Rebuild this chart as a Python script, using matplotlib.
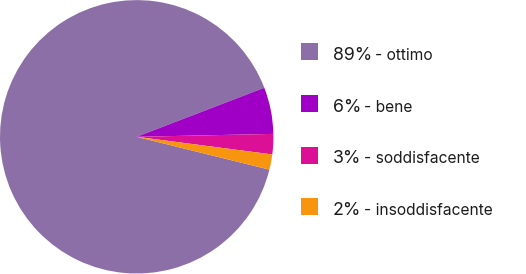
import matplotlib.pyplot as plt
from matplotlib.patches import Rectangle

# slice shares, labels as printed in the legend
categories = ['ottimo', 'bene', 'soddisfacente', 'insoddisfacente']
shares = [90.3, 5.5, 2.4, 1.8]
pct_labels = ['89%', '6%', '3%', '2%']
colors = ['#8b6fa6', '#a000c6', '#dc0f97', '#f7950f']

W, H = 526, 274
fig = plt.figure(figsize=(W / 100, H / 100), dpi=100)

# pie on the left
ax = fig.add_axes([0.0, 0.5 / H, 273.4 / W, 273.4 / H])
ax.pie(shares, colors=colors, startangle=-13.9, counterclock=False,
       radius=1, wedgeprops=dict(linewidth=0))
ax.set_xlim(-1, 1)
ax.set_ylim(-1, 1)
ax.set_aspect('equal')
ax.axis('off')

# legend drawn by hand: square, big percent, then the category name
renderer = fig.canvas.get_renderer()
row_y = [51.7, 103.3, 155.0, 206.7]
for i in range(len(categories)):
    yc = H - row_y[i]
    base = yc - 8.3
    sq = Rectangle((301.0 / W, (yc - 8.5) / H), 17 / W, 17 / H,
                   transform=fig.transFigure, facecolor=colors[i],
                   edgecolor='none')
    fig.patches.append(sq)
    t = fig.text(333 / W, base / H, pct_labels[i], fontsize=12.8,
                 family='Inter', color='#1c1c1c', va='baseline')
    x1 = t.get_window_extent(renderer).x1
    fig.text((x1 + 3) / W, base / H, '- ' + categories[i], fontsize=11.2,
             family='Inter', color='#1c1c1c', va='baseline')

fig.savefig('out.png', dpi=100)
